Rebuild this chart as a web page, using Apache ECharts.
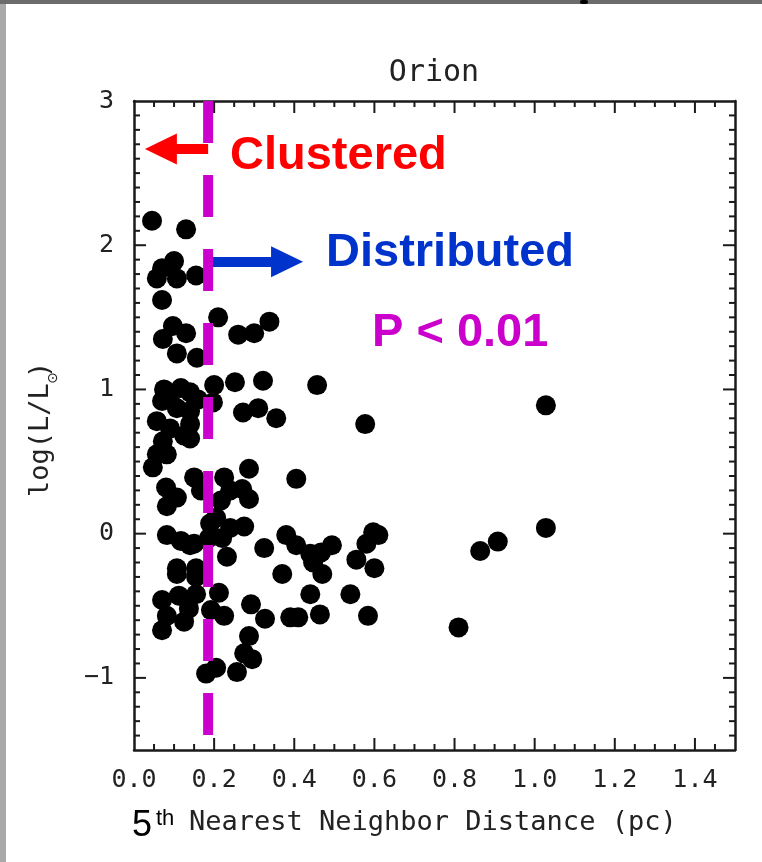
<!DOCTYPE html>
<html>
<head>
<meta charset="utf-8">
<title>Orion</title>
<script src="https://cdn.jsdelivr.net/npm/echarts@6/dist/echarts.min.js"></script>
<style>body{margin:0;background:#fff;}</style>
</head>
<body>
<div id="main" style="width:762px;height:862px;"></div>
<script type="text/javascript">
// tick labels
var xTicks = [0, 0.2, 0.4, 0.6, 0.8, 1.0, 1.2, 1.4];
var yTicks = [-1, 0, 1, 2, 3];
// cut between clustered and distributed
var cutX = 0.185;

// 5th nearest neighbor distance (pc)
var dist = [
  0.045, 0.13, 0.10, 0.07, 0.057, 0.107, 0.155, 0.07, 0.21, 0.097,
  0.13, 0.072, 0.107, 0.157, 0.26, 0.30, 0.338, 0.075, 0.117, 0.14,
  0.20, 0.252, 0.322, 0.457, 0.057, 0.07, 0.107, 0.14, 0.197, 0.09,
  0.16, 0.272, 0.31, 0.355, 0.577, 1.028, 0.09, 0.14, 0.125, 0.072,
  0.14, 0.057, 0.047, 0.082, 0.287, 0.405, 0.15, 0.08, 0.082, 0.107,
  0.167, 0.225, 0.24, 0.27, 0.287, 0.217, 0.205, 0.24, 0.275, 0.19,
  0.082, 0.117, 0.15, 0.187, 0.22, 0.38, 0.405, 0.44, 0.447, 0.467,
  0.494, 0.325, 0.232, 0.107, 0.155, 0.555, 0.58, 0.597, 0.61, 0.60,
  1.028, 0.908, 0.864, 0.107, 0.155, 0.37, 0.47, 0.44, 0.54, 0.464,
  0.39, 0.41, 0.584, 0.07, 0.07, 0.112, 0.155, 0.212, 0.082, 0.125,
  0.137, 0.192, 0.225, 0.292, 0.327, 0.287, 0.275, 0.295, 0.257, 0.18,
  0.205, 0.81, 0.14
];
// log(L/Lsun)
var logL = [
  2.17, 2.11, 1.89, 1.84, 1.77, 1.77, 1.79, 1.62, 1.50, 1.44,
  1.39, 1.35, 1.25, 1.22, 1.38, 1.39, 1.47, 1.00, 1.01, 0.98,
  1.03, 1.05, 1.06, 1.03, 0.78, 0.92, 0.87, 0.85, 0.91, 0.95,
  0.93, 0.84, 0.87, 0.80, 0.76, 0.89, 0.73, 0.76, 0.68, 0.64,
  0.66, 0.55, 0.46, 0.55, 0.45, 0.38, 0.39, 0.32, 0.19, 0.25,
  0.30, 0.39, 0.30, 0.31, 0.24, 0.23, 0.11, 0.04, 0.05, 0.07,
  -0.01, -0.05, -0.07, -0.03, -0.03, -0.01, -0.08, -0.14, -0.20, -0.13,
  -0.08, -0.10, -0.16, -0.24, -0.24, -0.18, -0.07, 0.01, -0.01, -0.24,
  0.04, -0.055, -0.12, -0.28, -0.30, -0.28, -0.28, -0.42, -0.42, -0.56,
  -0.58, -0.58, -0.57, -0.46, -0.67, -0.43, -0.42, -0.41, -0.57, -0.61,
  -0.52, -0.53, -0.57, -0.49, -0.59, -0.71, -0.83, -0.87, -0.96, -0.97,
  -0.93, -0.65, -0.08
];

var points = [];
for (var i = 0; i < dist.length; i++) points.push([dist[i], logL[i]]);

var X0 = 0, X1 = 1.5, Y0 = -1.5, Y1 = 3;
var mono = '"DejaVu Sans Mono"';
var ink = '#1a1a1a';

// tick marks: [value, isMajor]; minor every 0.05 in x, 0.1 in y
var xTickMarks = [], yTickMarks = [];
for (var k = 1; k < 30; k++) xTickMarks.push([Math.round(k * 5) / 100, k % 4 == 0 ? 1 : 0]);
for (var k = 1; k < 45; k++) yTickMarks.push([Math.round((Y0 + k * 0.1) * 10) / 10, (k + 5) % 10 == 0 ? 1 : 0]);

function tickSeries(marks, dir) {
  return {
    type: 'custom',
    silent: true,
    z: 6,
    data: marks,
    renderItem: function (params, api) {
      var v = api.value(0), major = api.value(1) == 1;
      var len = major ? 12 : 6;
      var a, b, shapes = [];
      if (dir == 'x') {
        a = api.coord([v, Y0]); b = api.coord([v, Y1]);
        shapes.push({ x1: a[0], y1: a[1], x2: a[0], y2: a[1] - len });
        shapes.push({ x1: b[0], y1: b[1], x2: b[0], y2: b[1] + len });
      } else {
        a = api.coord([X0, v]); b = api.coord([X1, v]);
        shapes.push({ x1: a[0], y1: a[1], x2: a[0] + len, y2: a[1] });
        shapes.push({ x1: b[0], y1: b[1], x2: b[0] - len, y2: b[1] });
      }
      return {
        type: 'group',
        children: shapes.map(function (s) {
          return { type: 'line', shape: s, style: { stroke: ink, lineWidth: 2 } };
        })
      };
    }
  };
}

function xAx(pos) {
  return {
    type: 'value', position: pos, min: X0, max: X1,
    axisLine: { show: true, onZero: false, lineStyle: { color: ink, width: 2.5 } },
    axisTick: { show: false },
    axisLabel: pos == 'bottom'
      ? { customValues: xTicks, margin: 18, color: '#222', fontFamily: mono, fontSize: 25,
          formatter: function (v) { return v.toFixed(1); } }
      : { show: false },
    splitLine: { show: false }
  };
}
function yAx(pos) {
  return {
    type: 'value', position: pos, min: Y0, max: Y1,
    axisLine: { show: true, onZero: false, lineStyle: { color: ink, width: 2.5 } },
    axisTick: { show: false },
    axisLabel: pos == 'left'
      ? { customValues: yTicks, margin: 20, color: '#222', fontFamily: mono, fontSize: 25,
          formatter: function (v) { return v < 0 ? '\u2212' + Math.abs(v) : String(v); } }
      : { show: false },
    splitLine: { show: false }
  };
}

var chart = echarts.init(document.getElementById('main'));
var option = {
  animation: false,
  backgroundColor: '#fff',
  grid: { left: 134, right: 27, top: 101, bottom: 112 },
  xAxis: [xAx('bottom'), xAx('top')],
  yAxis: [yAx('left'), yAx('right')],
  series: [
    {
      type: 'scatter',
      data: points,
      symbolSize: 20,
      itemStyle: { color: '#000', opacity: 1 },
      z: 2,
      markLine: {
        silent: true,
        z: 4,
        label: { show: false },
        data: [
          [
            { coord: [cutX, 2.668], symbol: 'none' },
            { coord: [0.067, 2.668], symbol: 'triangle', symbolSize: [31, 32],
              lineStyle: { color: '#ff0000', width: 10, type: 'solid' }, itemStyle: { color: '#ff0000' } }
          ],
          [
            { coord: [cutX, 1.885], symbol: 'none' },
            { coord: [0.382, 1.885], symbol: 'triangle', symbolSize: [31, 32],
              lineStyle: { color: '#0033cc', width: 10, type: 'solid' }, itemStyle: { color: '#0033cc' } }
          ]
        ]
      }
    },
    {
      type: 'line',
      data: [[cutX, Y1], [cutX, Y0]],
      symbol: 'none',
      z: 5,
      lineStyle: { color: '#cc00cc', width: 10, type: [42, 32], cap: 'butt' }
    },
    tickSeries(xTickMarks, 'x'),
    tickSeries(yTickMarks, 'y')
  ],
  graphic: [
    { type: 'rect', z: 0, shape: { x: 0, y: 0, width: 6, height: 862 }, style: { fill: '#a9a9a9' } },
    { type: 'rect', z: 0, shape: { x: 0, y: 0, width: 762, height: 4 }, style: { fill: '#6b6b6b' } },
    { type: 'rect', z: 1, shape: { x: 580, y: 0, width: 8, height: 4, r: 2 }, style: { fill: '#000' } },
    { type: 'text', x: 434, y: 73, style: { text: 'Orion', fill: '#222', font: '30px ' + mono, align: 'center', verticalAlign: 'middle' } },
    { type: 'text', x: 230, y: 156, z: 10, style: { text: 'Clustered', fill: '#ff0000', font: 'bold 47px "Liberation Sans"', verticalAlign: 'middle' } },
    { type: 'text', x: 326, y: 253, z: 10, style: { text: 'Distributed', fill: '#0033cc', font: 'bold 47px "Liberation Sans"', verticalAlign: 'middle' } },
    { type: 'text', x: 372, y: 333, z: 10, style: { text: 'P < 0.01', fill: '#cc00cc', font: 'bold 47px "Liberation Sans"', verticalAlign: 'middle' } },
    // x axis title
    { type: 'text', x: 132, y: 826, style: { text: '5', fill: '#000', font: '36px "Liberation Sans"', verticalAlign: 'middle' } },
    { type: 'text', x: 156, y: 819, style: { text: 'th', fill: '#000', font: '22px "Liberation Sans"', verticalAlign: 'middle' } },
    { type: 'text', x: 189, y: 823, style: { text: 'Nearest Neighbor Distance (pc)', fill: '#222', font: '27px ' + mono, verticalAlign: 'middle' } },
    // y axis title, rotated
    {
      type: 'group', x: 41, y: 430, rotation: Math.PI / 2,
      children: [
        { type: 'text', x: -67, y: 0, style: { text: 'log(L/L', fill: '#222', font: '27px ' + mono, verticalAlign: 'middle' } },
        { type: 'text', x: 52, y: 12, style: { text: '\u2299', fill: '#222', font: '14px "DejaVu Sans"', align: 'center', verticalAlign: 'middle' } },
        { type: 'text', x: 52, y: 0, style: { text: ')', fill: '#222', font: '27px ' + mono, verticalAlign: 'middle' } }
      ]
    }
  ]
};
chart.setOption(option);
</script>
</body>
</html>
